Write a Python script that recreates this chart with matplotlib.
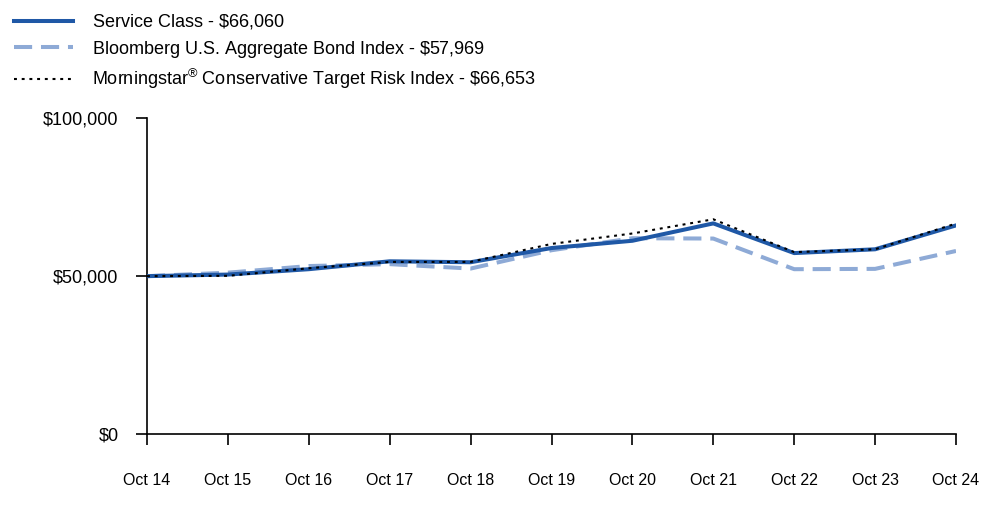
import matplotlib
matplotlib.use('Agg')
import matplotlib.pyplot as plt
from matplotlib.ticker import FuncFormatter

plt.rcParams['font.family'] = ['Liberation Sans', 'DejaVu Sans']
plt.rcParams['mathtext.fontset'] = 'custom'
plt.rcParams['mathtext.rm'] = 'Liberation Sans'

# datos
fechas = ['Oct 14', 'Oct 15', 'Oct 16', 'Oct 17', 'Oct 18', 'Oct 19',
          'Oct 20', 'Oct 21', 'Oct 22', 'Oct 23', 'Oct 24']
service_class = [50000, 50500, 52200, 54700, 54400, 58900, 61200, 66700, 57300, 58500, 66060]
bloomberg = [50000, 51100, 53200, 53800, 52400, 58200, 62000, 61900, 52200, 52300, 57969]
morningstar = [50000, 50100, 52500, 54500, 54500, 60200, 63500, 68000, 57600, 58500, 66653]

# el superindice vacio en las dos primeras etiquetas iguala la altura de las filas
etiquetas = [r'Service Class - \$66,060$^{\,}$',
             r'Bloomberg U.S. Aggregate Bond Index - \$57,969$^{\,}$',
             r'Morningstar$^{\circledR}$ Conservative Target Risk Index - \$66,653']

fig = plt.figure(figsize=(10, 5.23), dpi=100)
ax = fig.add_axes([0.147, 0.170, 0.809, 0.604])

x = range(len(fechas))
l1, = ax.plot(x, service_class, color='#1f58a6', linewidth=2.9, zorder=3)
l2, = ax.plot(x, bloomberg, color='#8eaad6', linewidth=2.9, dashes=(4.5, 2.2), zorder=2)
l3, = ax.plot(x, morningstar, color='black', linewidth=1.5, dashes=(1.4, 2.3), zorder=4)

ax.set_xlim(0, len(fechas) - 1)
ax.set_ylim(0, 100000)
ax.set_yticks([0, 50000, 100000])
ax.yaxis.set_major_formatter(FuncFormatter(lambda v, p: '${:,.0f}'.format(v)))
ax.set_xticks(list(x))
ax.set_xticklabels(fechas)

for s in ['top', 'right']:
    ax.spines[s].set_visible(False)
ax.tick_params(axis='y', direction='out', length=8, width=1.2, labelsize=13, pad=12.5)
ax.tick_params(axis='x', direction='out', length=8, width=1.2, labelsize=11.5, pad=20)
ax.spines['left'].set_linewidth(1.2)
ax.spines['bottom'].set_linewidth(1.2)

fig.legend([l1, l2, l3], etiquetas, loc='upper left', bbox_to_anchor=(0.003, 0.997),
           frameon=False, fontsize=13, handlelength=3.3, handletextpad=1.05,
           labelspacing=0.4, borderpad=0.6, borderaxespad=0)

plt.savefig('out.png', dpi=100)
